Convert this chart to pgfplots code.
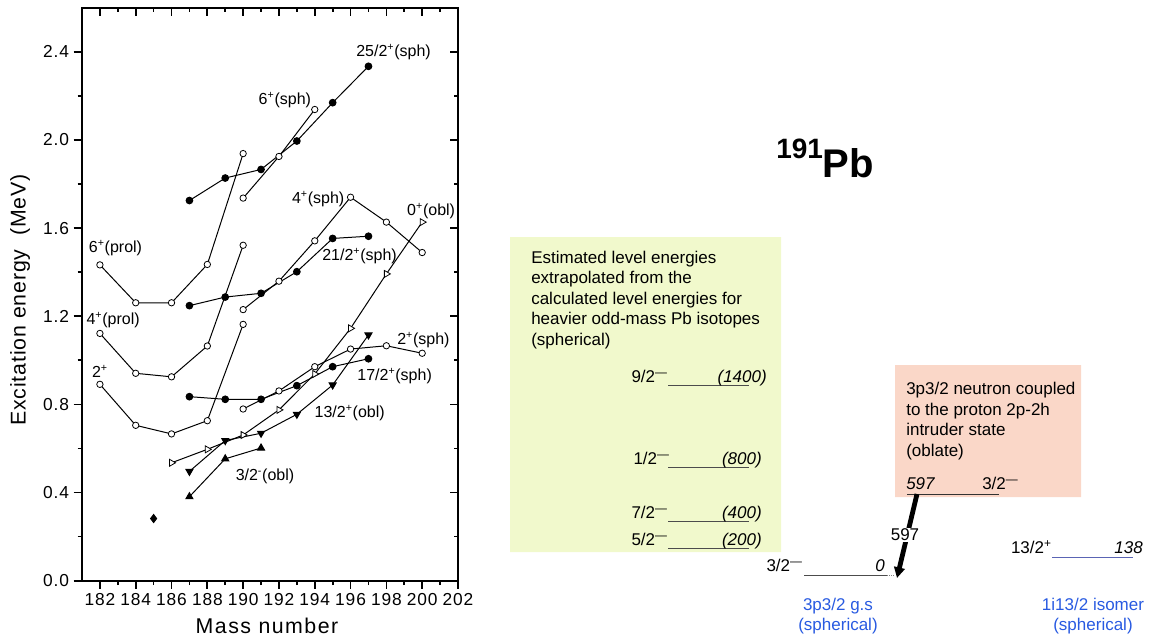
\documentclass[border=0pt]{standalone}
\usepackage{fontspec}
\setmainfont{Liberation Sans}
\usepackage{pgfplots}
\pgfplotsset{compat=1.18}
\usetikzlibrary{arrows.meta}
\definecolor{boxgreen}{RGB}{241,249,204}
\definecolor{boxpink}{RGB}{250,215,200}
\definecolor{lblue}{RGB}{40,90,225}
\definecolor{lvlblue}{RGB}{90,100,180}
\newcommand{\sm}{\textsuperscript{—}}
\newcommand{\rtxt}{\fontsize{12.75}{15}\selectfont}
\newcommand{\dl}{\fontsize{12}{14}\selectfont}
\begin{document}
\begin{tikzpicture}
\useasboundingbox (0,0) rectangle (861.75pt,478.5pt);
% ---------- right-hand level scheme (pixel coordinates) ----------
\begin{axis}[at={(0pt,0pt)}, anchor=south west, width=861.75pt, height=478.5pt,
  scale only axis, xmin=0, xmax=1149, ymin=0, ymax=638, y dir=reverse,
  hide axis, clip=false]
\addplot[draw=none, fill=boxgreen] coordinates {(510,237)(781,237)(781,552)(510,552)(510,237)};
\addplot[draw=none, fill=boxpink] coordinates {(895,365)(1081,365)(1081,497)(895,497)(895,365)};
% title
\node[anchor=base west, inner sep=0] at (axis cs:776,177)
  {\raisebox{14pt}{\fontsize{21}{21}\selectfont\bfseries 191}\fontsize{30}{30}\selectfont\bfseries Pb};
% green box text
\node[anchor=base west, inner sep=0] at (axis cs:531,263) {\rtxt Estimated level energies};
\node[anchor=base west, inner sep=0] at (axis cs:531,283.5) {\rtxt extrapolated from the};
\node[anchor=base west, inner sep=0] at (axis cs:531,304) {\rtxt calculated level energies for};
\node[anchor=base west, inner sep=0] at (axis cs:531,324.5) {\rtxt heavier odd-mass Pb isotopes};
\node[anchor=base west, inner sep=0] at (axis cs:531,345) {\rtxt (spherical)};
% estimated levels
\addplot[gray!60!black, line width=0.6pt] coordinates {(668,385)(749,385)};
\addplot[gray!60!black, line width=0.6pt] coordinates {(668,467)(749,467)};
\addplot[gray!60!black, line width=0.6pt] coordinates {(668,521)(749,521)};
\addplot[gray!60!black, line width=0.6pt] coordinates {(668,548)(749,548)};
\node[anchor=base east, inner sep=0] at (axis cs:668,382) {\rtxt 9/2\sm};
\node[anchor=base east, inner sep=0] at (axis cs:670,464) {\rtxt 1/2\sm};
\node[anchor=base east, inner sep=0] at (axis cs:668,518) {\rtxt 7/2\sm};
\node[anchor=base east, inner sep=0] at (axis cs:668,545) {\rtxt 5/2\sm};
\node[anchor=base east, inner sep=0] at (axis cs:767,382) {\rtxt\itshape (1400)};
\node[anchor=base east, inner sep=0] at (axis cs:762,464) {\rtxt\itshape (800)};
\node[anchor=base east, inner sep=0] at (axis cs:762,518) {\rtxt\itshape (400)};
\node[anchor=base east, inner sep=0] at (axis cs:762,545) {\rtxt\itshape (200)};
% pink box text
\node[anchor=base west, inner sep=0] at (axis cs:906,394.5) {\rtxt 3p3/2 neutron coupled};
\node[anchor=base west, inner sep=0] at (axis cs:906,415) {\rtxt to the proton 2p-2h};
\node[anchor=base west, inner sep=0] at (axis cs:906,435.5) {\rtxt intruder state};
\node[anchor=base west, inner sep=0] at (axis cs:906,456) {\rtxt (oblate)};
\node[anchor=base west, inner sep=0] at (axis cs:906,489.5) {\rtxt\itshape 597};
\node[anchor=base west, inner sep=0] at (axis cs:982,489.5) {\rtxt 3/2\sm};
\addplot[black!80, line width=0.6pt] coordinates {(907,494)(999,494)};
% transition arrow
\addplot[black, line width=3.6pt, -{Triangle[length=8pt,width=8pt]}] coordinates {(917,494)(897,578)};
\node[fill=white, inner sep=1pt] at (axis cs:905,535) {\rtxt 597};
% ground state
\addplot[black!70, line width=0.6pt] coordinates {(804,575)(887,575)};
\addplot[black!50, line width=0.6pt, densely dotted] coordinates {(887,575)(894,575)};
\node[anchor=base east, inner sep=0] at (axis cs:803,571.5) {\rtxt 3/2\sm};
\node[anchor=base east, inner sep=0] at (axis cs:885,571.5) {\rtxt\itshape 0};
% isomer
\addplot[lvlblue, line width=0.6pt] coordinates {(1052,557)(1133,557)};
\node[anchor=base east, inner sep=0] at (axis cs:1052,553.3) {\rtxt 13/2\textsuperscript{+}};
\node[anchor=base east, inner sep=0] at (axis cs:1143,553.3) {\rtxt\itshape 138};
% blue captions
\node[anchor=base, inner sep=0, text=lblue] at (axis cs:838,610) {\rtxt 3p3/2 g.s};
\node[anchor=base, inner sep=0, text=lblue] at (axis cs:838,630) {\rtxt (spherical)};
\node[anchor=base, inner sep=0, text=lblue] at (axis cs:1093,610) {\rtxt 1i13/2 isomer};
\node[anchor=base, inner sep=0, text=lblue] at (axis cs:1093,630) {\rtxt (spherical)};
% axis titles of the left chart
\node[rotate=90, inner sep=0] at (axis cs:20,300) {\fontsize{16}{18}\selectfont\addfontfeature{LetterSpace=4}Excitation energy\ \ (MeV)};
\node[anchor=base, inner sep=0] at (axis cs:267,633) {\fontsize{16}{18}\selectfont\addfontfeature{LetterSpace=7}Mass number};
\end{axis}
% ---------- left chart ----------
\begin{axis}[at={(61.5pt,42.98pt)}, anchor=south west, width=282pt, height=429.75pt,
  scale only axis, xmin=181, xmax=202, ymin=0, ymax=2.6,
  xtick={182,184,...,202}, ytick={0,0.4,0.8,1.2,1.6,2.0,2.4},
  minor x tick num=1, minor y tick num=1,
  tick align=outside, xtick pos=left, ytick pos=left,
  major tick length=6.2pt, minor tick length=3.3pt,
  every tick/.style={black, line width=1.3pt},
  axis line style={line width=1.5pt},
  /pgf/number format/assume math mode=true,
  tick label style={font=\fontsize{13}{14}\selectfont\addfontfeature{LetterSpace=5}},
  yticklabel style={/pgf/number format/fixed, /pgf/number format/fixed zerofill, /pgf/number format/precision=1},
  xticklabel style={/pgf/number format/1000 sep={}},
  clip=false]
\pgfplotsset{every axis plot/.append style={black, line width=0.75pt}}
% 6+ (prol)
\addplot[mark=*, mark size=2.4pt, mark options={fill=white, line width=0.6pt}] coordinates {(182,1.433)(184,1.261)(186,1.261)(188,1.435)(190,1.938)};
% 4+ (prol)
\addplot[mark=*, mark size=2.4pt, mark options={fill=white, line width=0.6pt}] coordinates {(182,1.122)(184,0.941)(186,0.925)(188,1.065)(190,1.522)};
% 2+
\addplot[mark=*, mark size=2.4pt, mark options={fill=white, line width=0.6pt}] coordinates {(182,0.891)(184,0.705)(186,0.666)(188,0.726)(190,1.163)};
% 25/2+ (sph)
\addplot[mark=*, mark size=2.5pt] coordinates {(187,1.725)(189,1.827)(191,1.866)(193,1.995)(195,2.169)(197,2.334)};
% 6+ (sph)
\addplot[mark=*, mark size=2.4pt, mark options={fill=white, line width=0.6pt}] coordinates {(190,1.736)(192,1.925)(194,2.138)};
% 21/2+ (sph)
\addplot[mark=*, mark size=2.5pt] coordinates {(187,1.248)(189,1.287)(191,1.304)(193,1.402)(195,1.553)(197,1.563)};
% 4+ (sph)
\addplot[mark=*, mark size=2.4pt, mark options={fill=white, line width=0.6pt}] coordinates {(190,1.230)(192,1.359)(194,1.542)(196,1.740)(198,1.627)(200,1.489)};
% 0+ (obl)
\addplot[mark=triangle*, mark size=3pt, mark options={fill=white, rotate=-90, line width=0.6pt}] coordinates {(186,0.535)(188,0.596)(190,0.661)(192,0.775)(194,0.938)(196,1.145)(198,1.392)(200,1.627)};
% 2+ (sph)
\addplot[mark=*, mark size=2.4pt, mark options={fill=white, line width=0.6pt}] coordinates {(190,0.779)(192,0.861)(194,0.971)(196,1.051)(198,1.066)(200,1.032)};
% 17/2+ (sph)
\addplot[mark=*, mark size=2.5pt] coordinates {(187,0.835)(189,0.823)(191,0.823)(193,0.885)(195,0.971)(197,1.007)};
% 13/2+ (obl)
\addplot[mark=triangle*, mark size=3pt, mark options={rotate=180}] coordinates {(187,0.496)(189,0.636)(191,0.669)(193,0.755)(195,0.888)(197,1.115)};
% 3/2- (obl)
\addplot[mark=triangle*, mark size=3pt] coordinates {(187,0.381)(189,0.553)(191,0.602)};
% single point
\addplot[only marks, mark=diamond*, mark size=3pt] coordinates {(185,0.282)};
% labels
\node at (axis cs:198.4,2.40) {\dl 25/2\textsuperscript{+}(sph)};
\node at (axis cs:192.33,2.18) {\dl 6\textsuperscript{+}(sph)};
\node at (axis cs:194.19,1.733) {\dl 4\textsuperscript{+}(sph)};
\node at (axis cs:200.5,1.677) {\dl 0\textsuperscript{+}(obl)};
\node at (axis cs:196.5,1.474) {\dl 21/2\textsuperscript{+}(sph)};
\node at (axis cs:182.87,1.511) {\dl 6\textsuperscript{+}(prol)};
\node at (axis cs:182.74,1.183) {\dl 4\textsuperscript{+}(prol)};
\node at (axis cs:182,0.949) {\dl 2\textsuperscript{+}};
\node at (axis cs:200.07,1.091) {\dl 2\textsuperscript{+}(sph)};
\node at (axis cs:198.46,0.930) {\dl 17/2\textsuperscript{+}(sph)};
\node at (axis cs:195.95,0.762) {\dl 13/2\textsuperscript{+}(obl)};
\node at (axis cs:191.22,0.475) {\dl 3/2\textsuperscript{-}(obl)};
\end{axis}
% inward ticks on top and right
\begin{axis}[at={(61.5pt,42.98pt)}, anchor=south west, width=282pt, height=429.75pt,
  scale only axis, xmin=181, xmax=202, ymin=0, ymax=2.6,
  xtick={182,184,...,202}, ytick={0,0.4,0.8,1.2,1.6,2.0,2.4},
  minor x tick num=1, minor y tick num=1,
  tick align=inside, xtick pos=right, ytick pos=right,
  major tick length=6.2pt, minor tick length=3.3pt,
  every tick/.style={black, line width=1.3pt},
  axis line style={line width=1.5pt},
  xticklabels={}, yticklabels={}]
\end{axis}
\end{tikzpicture}
\end{document}
